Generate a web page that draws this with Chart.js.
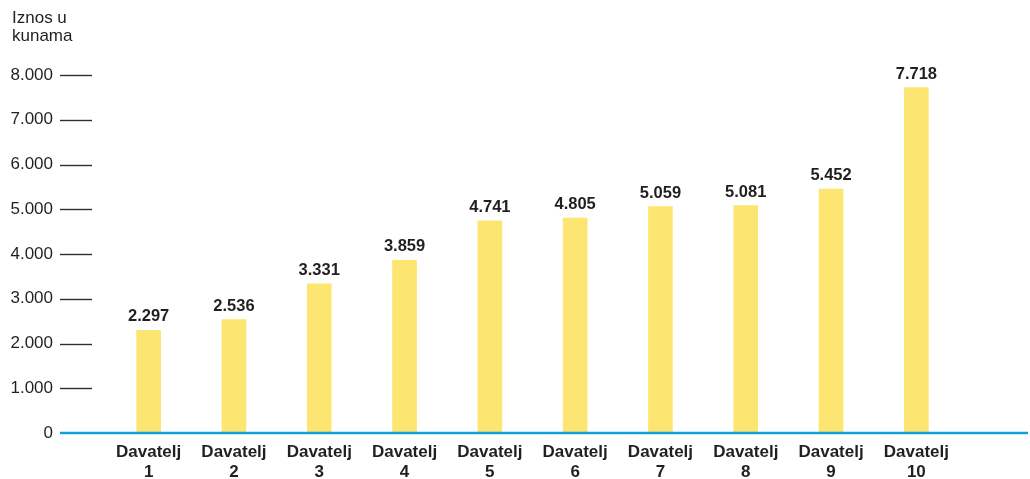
<!DOCTYPE html>
<html>
<head>
<meta charset="utf-8">
<script src="https://cdn.jsdelivr.net/npm/chart.js@4/dist/chart.umd.min.js"></script>
<style>
  html, body { margin: 0; padding: 0; background: #fff; }
  #wrap { width: 1030px; height: 479px; }
</style>
</head>
<body>
<div id="wrap"><canvas id="donors" width="1030" height="479"></canvas></div>
<script>
const categories = ['1', '2', '3', '4', '5', '6', '7', '8', '9', '10'];
const amounts = [2297, 2536, 3331, 3859, 4741, 4805, 5059, 5081, 5452, 7718];
const yTicks = [0, 1000, 2000, 3000, 4000, 5000, 6000, 7000, 8000];
const axisTitle = ['Iznos u', 'kunama'];

const textColor = '#231f20';
const fontFamily = '"Liberation Sans", Arial, Helvetica, sans-serif';

// 7718 -> "7.718"
const fmt = v => String(v).replace(/\B(?=(\d{3})+(?!\d))/g, '.');

const extras = {
    id: 'extras',
    afterDatasetsDraw(chart) {
        const ctx = chart.ctx;
        const y = chart.scales.y;
        ctx.save();

        // axis title, top left
        ctx.fillStyle = textColor;
        ctx.font = '17px ' + fontFamily;
        ctx.textAlign = 'left';
        ctx.textBaseline = 'alphabetic';
        ctx.fillText(axisTitle[0], 12, 23);
        ctx.fillText(axisTitle[1], 12, 41);

        // short tick dashes next to the labels
        ctx.strokeStyle = '#26313a';
        ctx.lineWidth = 1.4;
        yTicks.slice(1).forEach(t => {
            const py = Math.round(y.getPixelForValue(t)) + 0.5;
            ctx.beginPath();
            ctx.moveTo(60, py);
            ctx.lineTo(92, py);
            ctx.stroke();
        });

        // blue baseline
        const by = y.getPixelForValue(0);
        ctx.strokeStyle = '#119fdc';
        ctx.lineWidth = 2.5;
        ctx.beginPath();
        ctx.moveTo(60, by);
        ctx.lineTo(1028, by);
        ctx.stroke();

        // value labels
        ctx.fillStyle = textColor;
        ctx.font = 'bold 16.5px ' + fontFamily;
        ctx.textAlign = 'center';
        chart.getDatasetMeta(0).data.forEach((bar, i) => {
            ctx.fillText(fmt(amounts[i]), bar.x, bar.y - 9);
        });
        ctx.restore();
    }
};

new Chart(document.getElementById('donors'), {
    type: 'bar',
    data: {
        labels: categories.map(c => ['Davatelj', c]),
        datasets: [{
            data: amounts,
            backgroundColor: '#fde571',
            barThickness: 24,
        }],
    },
    options: {
        responsive: false,
        animation: false,
        layout: { padding: { left: 10, top: 75, right: 71, bottom: 0 } },
        plugins: {
            legend: { display: false },
            tooltip: { enabled: false },
        },
        scales: {
            x: {
                grid: { display: false, drawTicks: false },
                border: { display: false },
                ticks: {
                    color: textColor,
                    padding: 9,
                    font: { family: fontFamily, size: 17, weight: 'bold', lineHeight: 1.2 },
                },
                afterFit(scale) { scale.height = 46; },
            },
            y: {
                min: 0,
                max: 8000,
                grid: { display: false, drawTicks: false },
                border: { display: false },
                afterBuildTicks(scale) { scale.ticks = yTicks.map(v => ({ value: v })); },
                ticks: {
                    color: textColor,
                    padding: 53,
                    font: { family: fontFamily, size: 17 },
                    callback: v => fmt(v),
                },
                afterFit(scale) {
                    scale.width = 96;
                    // the big label padding should not push the plot area up
                    scale.paddingTop = 10;
                    scale.paddingBottom = 10;
                },
            },
        },
    },
    plugins: [extras],
});
</script>
</body>
</html>
